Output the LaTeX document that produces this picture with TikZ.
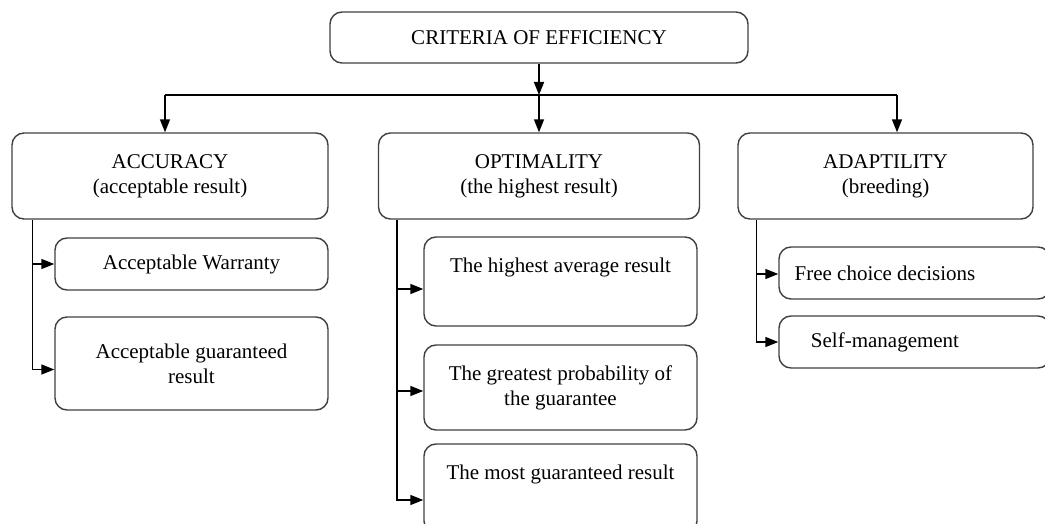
\documentclass[tikz,border=0pt]{standalone}
\usepackage{fontspec}
\setmainfont{Liberation Serif}
\usetikzlibrary{arrows.meta}

\begin{document}
\begin{tikzpicture}[x=1pt,y=-1pt,
  line width=1.6pt,
  crit box/.style={draw=black!75,line width=1.4pt,rounded corners=12pt,align=center,inner sep=0pt,
    font=\fontsize{21}{25}\selectfont},
  link/.style={-{Triangle[length=13pt,width=10pt]}}]

  \useasboundingbox (0,0) rectangle (1045,524);

  % top and the three groups
  \node[crit box,minimum width=418,minimum height=51] (crit) at (539,37.5) {CRITERIA OF EFFICIENCY};
  \node[crit box,minimum width=316,minimum height=86] (acc) at (170,176) {ACCURACY\\(acceptable result)};
  \node[crit box,minimum width=321,minimum height=86] (opt) at (539,176) {OPTIMALITY\\(the highest result)};
  \node[crit box,minimum width=295,minimum height=86] (ada) at (885.5,176) {ADAPTILITY\\(breeding)};

  % sub-criteria
  \node[crit box,minimum width=273,minimum height=52] (aw) at (191.5,264) {Acceptable Warranty};
  \node[crit box,minimum width=273,minimum height=93] (agr) at (191.5,363.5) {Acceptable guaranteed\\result};
  \node[crit box,minimum width=273,minimum height=89] (ha) at (560.5,281.5) {The highest average result\\\strut};
  \node[crit box,minimum width=273,minimum height=85] (gp) at (560.5,387.5) {The greatest probability of\\the guarantee};
  \node[crit box,minimum width=273,minimum height=89] (mg) at (560.5,488.5) {The most guaranteed result\\\strut};
  \node[crit box,minimum width=271,minimum height=52] (fc) at (914.5,273) {};
  \node[crit box,minimum width=271,minimum height=52] (sm) at (914.5,342) {};
  \node[font=\fontsize{21}{25}\selectfont] (fct) at (885,273) {Free choice decisions};
  \node[font=\fontsize{21}{25}\selectfont] (smt) at (885,342) {Self-management};

  % bus
  \coordinate (busL) at (165,95);
  \coordinate (busR) at (897,95);
  \draw[link] (crit.south) -- (crit.south |- busL);
  \draw (busL) -- (busR);
  \draw[link] (busL) -- (busL |- acc.north);
  \draw[link] (crit.south |- busL) -- (opt.north);
  \draw[link] (busR) -- (busR |- ada.north);

  % branches
  \coordinate (accL) at ([xshift=21pt]acc.south west);
  \coordinate (optL) at ([xshift=19pt]opt.south west);
  \coordinate (adaL) at ([xshift=19pt]ada.south west);
  \draw[link] (accL) |- (aw.west);
  \draw[link] (accL) |- ([yshift=-6pt]agr.west);
  \draw[link] (optL) |- ([yshift=-7.5pt]ha.west);
  \draw[link] (optL) |- ([yshift=-3.5pt]gp.west);
  \draw[link] (optL) |- ([yshift=-11.5pt]mg.west);
  \draw[link] (adaL) |- ([yshift=-1pt]fc.west);
  \draw[link] (adaL) |- (sm.west);
\end{tikzpicture}
\end{document}
